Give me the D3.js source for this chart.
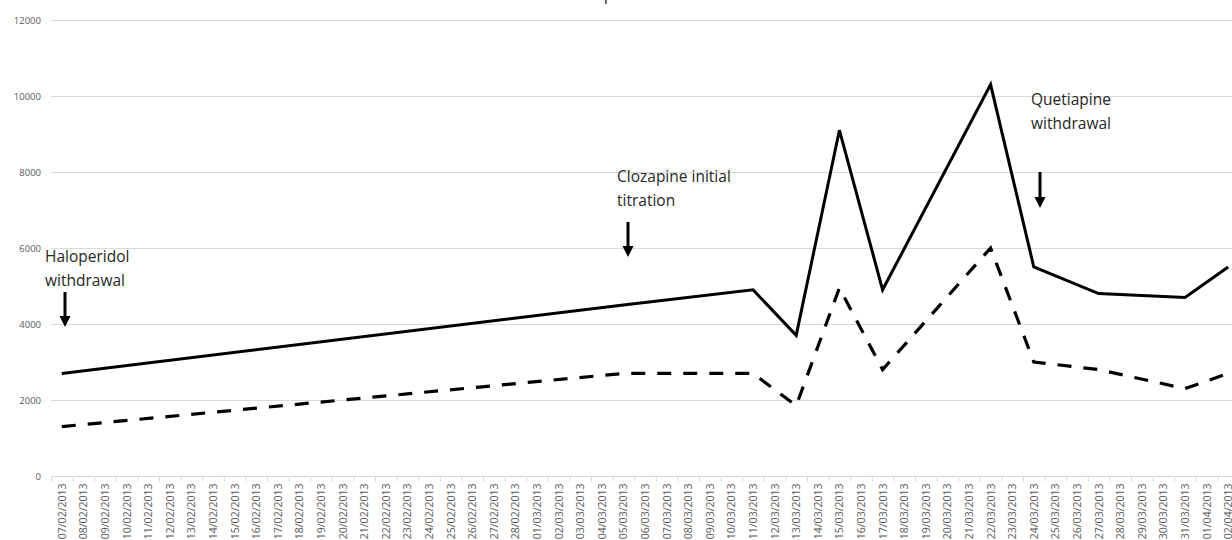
<!DOCTYPE html>
<html>
<head>
<meta charset="utf-8">
<script src="https://cdn.jsdelivr.net/npm/d3@7"></script>
<style>
  html, body { margin: 0; padding: 0; background: #fff; }
  svg { display: block; }
</style>
</head>
<body>
<svg id="chart" width="1232" height="540"></svg>
<script>
// Daily categories, 07/02/2013 to 02/04/2013
const dates = [
  "07/02/2013","08/02/2013","09/02/2013","10/02/2013","11/02/2013","12/02/2013","13/02/2013",
  "14/02/2013","15/02/2013","16/02/2013","17/02/2013","18/02/2013","19/02/2013","20/02/2013",
  "21/02/2013","22/02/2013","23/02/2013","24/02/2013","25/02/2013","26/02/2013","27/02/2013",
  "28/02/2013","01/03/2013","02/03/2013","03/03/2013","04/03/2013","05/03/2013","06/03/2013",
  "07/03/2013","08/03/2013","09/03/2013","10/03/2013","11/03/2013","12/03/2013","13/03/2013",
  "14/03/2013","15/03/2013","16/03/2013","17/03/2013","18/03/2013","19/03/2013","20/03/2013",
  "21/03/2013","22/03/2013","23/03/2013","24/03/2013","25/03/2013","26/03/2013","27/03/2013",
  "28/03/2013","29/03/2013","30/03/2013","31/03/2013","01/04/2013","02/04/2013"
];

// Measured days only; the lines join the measurements across the gaps
const solidDates  = ["07/02/2013","05/03/2013","11/03/2013","13/03/2013","15/03/2013","17/03/2013","22/03/2013","24/03/2013","27/03/2013","31/03/2013","02/04/2013"];
const solidValues = [2700, 4500, 4900, 3700, 9100, 4900, 10300, 5500, 4800, 4700, 5500];

const dashedDates  = ["07/02/2013","05/03/2013","11/03/2013","13/03/2013","15/03/2013","17/03/2013","22/03/2013","24/03/2013","27/03/2013","31/03/2013","02/04/2013"];
const dashedValues = [1300, 2700, 2700, 1850, 4950, 2800, 6000, 3000, 2800, 2300, 2700];

const yTicks = [0, 2000, 4000, 6000, 8000, 10000, 12000];

const annotations = [
  { lines: ["Haloperidol", "withdrawal"], x: 45, y: 262, ax: 65, ay1: 292, ay2: 327 },
  { lines: ["Clozapine initial", "titration"], x: 617, y: 182, ax: 628, ay1: 222, ay2: 257 },
  { lines: ["Quetiapine", "withdrawal"], x: 1031, y: 105, ax: 1040, ay1: 172, ay2: 208 }
];

const svg = d3.select("#chart");
const plotLeft = 51, catWidth = 21.6;
const plotRight = plotLeft + catWidth * dates.length;
const plotTop = 20, plotBottom = 476;

const x = d3.scaleBand().domain(dates).range([plotLeft, plotRight]).paddingInner(0).paddingOuter(0);
const cx = d => x(d) + x.bandwidth() / 2;
const y = d3.scaleLinear().domain([0, 12000]).range([plotBottom, plotTop]);

// Title (sits mostly above the visible area)
svg.append("text")
  .attr("x", 625).attr("y", 0)
  .attr("text-anchor", "middle")
  .attr("font-family", "Open Sans, sans-serif")
  .attr("font-size", 18)
  .attr("fill", "#404040")
  .text("Clozapine levels");

// Horizontal gridlines
svg.append("g")
  .selectAll("line")
  .data(yTicks.filter(v => v > 0))
  .join("line")
  .attr("x1", plotLeft).attr("x2", plotRight)
  .attr("y1", d => y(d) + 0.5).attr("y2", d => y(d) + 0.5)
  .attr("stroke", "#d9d9d9").attr("stroke-width", 1);

// Y axis labels
const yAxis = d3.axisLeft(y).tickValues(yTicks).tickSize(0).tickPadding(10).tickFormat(d3.format("d"));
const gy = svg.append("g").attr("transform", `translate(${plotLeft},0)`).call(yAxis);
gy.select(".domain").remove();
gy.selectAll("text")
  .attr("font-family", "Open Sans, sans-serif")
  .attr("font-size", 9.5)
  .attr("fill", "#595959");

// X axis with ticks at category boundaries
const gx = svg.append("g").attr("transform", `translate(0,${plotBottom + 0.5})`);
gx.append("line")
  .attr("x1", plotLeft).attr("x2", plotRight)
  .attr("stroke", "#d9d9d9").attr("stroke-width", 1);
gx.selectAll("line.tick")
  .data(dates.concat(["end"]))
  .join("line")
  .attr("class", "tick")
  .attr("x1", (d, i) => plotLeft + i * catWidth + 0.5)
  .attr("x2", (d, i) => plotLeft + i * catWidth + 0.5)
  .attr("y1", 0).attr("y2", 5)
  .attr("stroke", "#d9d9d9");
gx.selectAll("text")
  .data(dates)
  .join("text")
  .attr("transform", d => `translate(${cx(d) + 4},7) rotate(-90)`)
  .attr("text-anchor", "end")
  .attr("font-family", "Open Sans, sans-serif")
  .attr("font-size", 10.5)
  .attr("fill", "#595959")
  .text(d => d);

// Series lines
const line = d3.line().x(d => cx(d.date)).y(d => y(d.value));
const solid = solidDates.map((d, i) => ({ date: d, value: solidValues[i] }));
const dashed = dashedDates.map((d, i) => ({ date: d, value: dashedValues[i] }));

svg.append("path")
  .datum(solid)
  .attr("d", line)
  .attr("fill", "none")
  .attr("stroke", "#000")
  .attr("stroke-width", 3)
  .attr("stroke-linejoin", "miter");

svg.append("path")
  .datum(dashed)
  .attr("d", line)
  .attr("fill", "none")
  .attr("stroke", "#000")
  .attr("stroke-width", 3.2)
  .attr("stroke-dasharray", "14,12")
  .attr("stroke-linecap", "butt");

// Annotations with down arrows
const ann = svg.append("g");
annotations.forEach(a => {
  const t = ann.append("text")
    .attr("font-family", "Open Sans, sans-serif")
    .attr("font-size", 15.5)
    .attr("fill", "#262626");
  a.lines.forEach((l, i) => {
    t.append("tspan").attr("x", a.x).attr("y", a.y + i * 24).text(l);
  });
  ann.append("line")
    .attr("x1", a.ax).attr("x2", a.ax)
    .attr("y1", a.ay1).attr("y2", a.ay2 - 10)
    .attr("stroke", "#000").attr("stroke-width", 3);
  ann.append("path")
    .attr("d", `M${a.ax - 5.5},${a.ay2 - 11} L${a.ax + 5.5},${a.ay2 - 11} L${a.ax},${a.ay2} Z`)
    .attr("fill", "#000");
});
</script>
</body>
</html>
